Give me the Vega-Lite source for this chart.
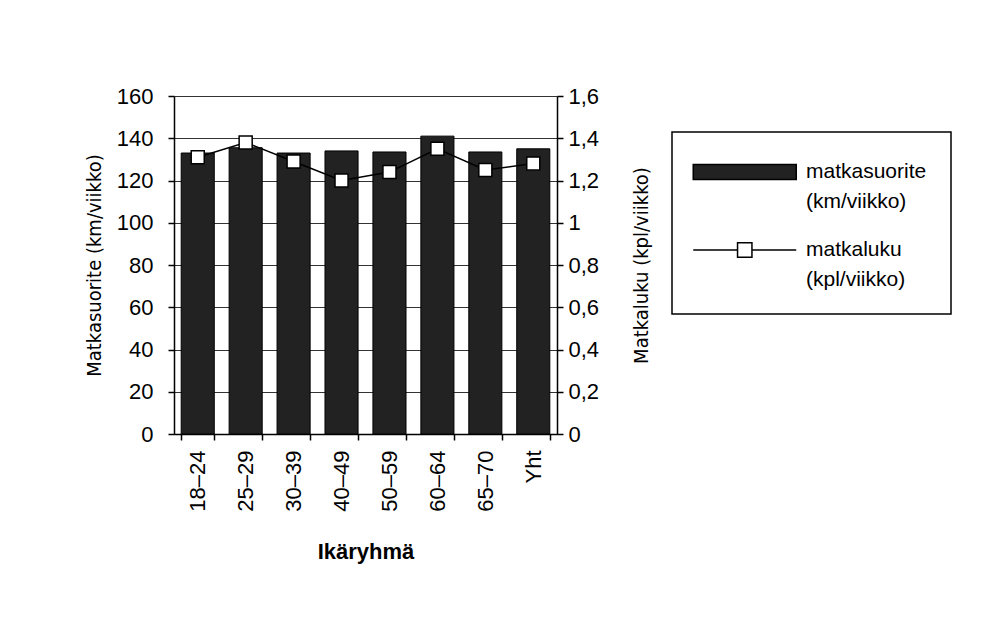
{
  "$schema": "https://vega.github.io/schema/vega-lite/v6.json",
  "width": 383,
  "height": 338,
  "autosize": "none",
  "padding": {"left": 174, "top": 96, "right": 443, "bottom": 186},
  "background": "white",
  "data": {
    "values": [
      {"ryhma": "18–24", "km": 133, "kpl": 1.31},
      {"ryhma": "25–29", "km": 135.5, "kpl": 1.38},
      {"ryhma": "30–39", "km": 133, "kpl": 1.29},
      {"ryhma": "40–49", "km": 134, "kpl": 1.2},
      {"ryhma": "50–59", "km": 133.5, "kpl": 1.24},
      {"ryhma": "60–64", "km": 141, "kpl": 1.35},
      {"ryhma": "65–70", "km": 133.5, "kpl": 1.25},
      {"ryhma": "Yht", "km": 135, "kpl": 1.28}
    ]
  },
  "encoding": {
    "x": {
      "field": "ryhma",
      "type": "nominal",
      "sort": null,
      "scale": {"paddingInner": 0.31, "paddingOuter": 0.15},
      "axis": {
        "title": "Ikäryhmä",
        "titleFontWeight": "bold",
        "titleFontSize": 22,
        "titlePadding": 30,
        "labelAngle": -90,
        "labelPadding": 10,
        "tickBand": "extent",
        "grid": false
      }
    }
  },
  "layer": [
    {
      "mark": {"type": "bar", "stroke": "black", "strokeWidth": 1},
      "encoding": {
        "y": {
          "field": "km",
          "type": "quantitative",
          "scale": {"domain": [0, 160]},
          "axis": {
            "title": "Matkasuorite (km/viikko)",
            "titleFont": "DejaVu Sans Condensed",
            "titleFontWeight": "normal",
            "titleFontSize": 20,
            "titlePadding": 12,
            "values": [0, 20, 40, 60, 80, 100, 120, 140, 160],
            "grid": true,
            "gridColor": "black",
            "gridOpacity": 0.8,
            "gridWidth": 1,
            "labelPadding": 15
          }
        },
        "color": {
          "datum": "matkasuorite|(km/viikko)",
          "type": "nominal",
          "scale": {
            "domain": ["matkasuorite|(km/viikko)", "matkaluku|(kpl/viikko)"],
            "range": ["#222222", "#ffffff"]
          },
          "legend": {
            "title": null,
            "orient": "none",
            "legendX": 498,
            "legendY": 36,
            "strokeColor": "black",
            "fillColor": "white",
            "padding": 24,
            "rowPadding": 22,
            "symbolSize": 900,
            "labelOffset": 78,
            "labelFontSize": 21,
            "labelBaseline": "middle",
            "labelExpr": "split(datum.label, '|')",
            "encoding": {
              "legend": {"strokeWidth": {"value": 1.5}},
              "symbols": {
                "shape": {"value": {"expr": "indexof(datum.value, 'matkasuorite') === 0 ? 'M-1.25,-0.5H5.616V0.5H-1.25Z' : 'M-1.25,0H1.703M2.663,0H5.616M1.703,-0.48H2.663V0.48H1.703Z'"}},
                "stroke": {"value": "black"},
                "strokeWidth": {"value": 1.5},
                "opacity": {"value": 1}
              },
              "labels": {
                "lineHeight": {"value": 30}
              }
            }
          }
        }
      }
    },
    {
      "mark": {"type": "line", "strokeWidth": 1.5, "color": "black"},
      "encoding": {
        "y": {
          "field": "kpl",
          "type": "quantitative",
          "scale": {"domain": [0, 1.6]},
          "axis": {
            "orient": "right",
            "title": "Matkaluku (kpl/viikko)",
            "titleFont": "DejaVu Sans Condensed",
            "titleFontWeight": "normal",
            "titleFontSize": 20,
            "titleAngle": 270,
            "titleBaseline": "top",
            "titlePadding": 33,
            "values": [0, 0.2, 0.4, 0.6, 0.8, 1, 1.2, 1.4, 1.6],
            "format": ".1~f",
            "labelExpr": "replace(datum.label, '.', ',')",
            "grid": false,
            "labelPadding": 5
          }
        }
      }
    },
    {
      "mark": {"type": "point", "shape": "square", "size": 170, "filled": true, "fill": "white", "stroke": "black", "strokeWidth": 1.5, "opacity": 1},
      "encoding": {
        "y": {"field": "kpl", "type": "quantitative", "scale": {"domain": [0, 1.6]}, "axis": null}
      }
    }
  ],
  "resolve": {"scale": {"y": "independent"}},
  "config": {
    "view": {"stroke": null},
    "font": "Liberation Sans",
    "axis": {
      "labelFont": "Liberation Sans",
      "labelFontSize": 22,
      "labelColor": "black",
      "titleColor": "black",
      "domainColor": "black",
      "domainWidth": 1.5,
      "tickColor": "black",
      "tickWidth": 1.5,
      "tickSize": 6
    },
    "legend": {"labelFont": "Liberation Sans", "labelColor": "black"}
  }
}
